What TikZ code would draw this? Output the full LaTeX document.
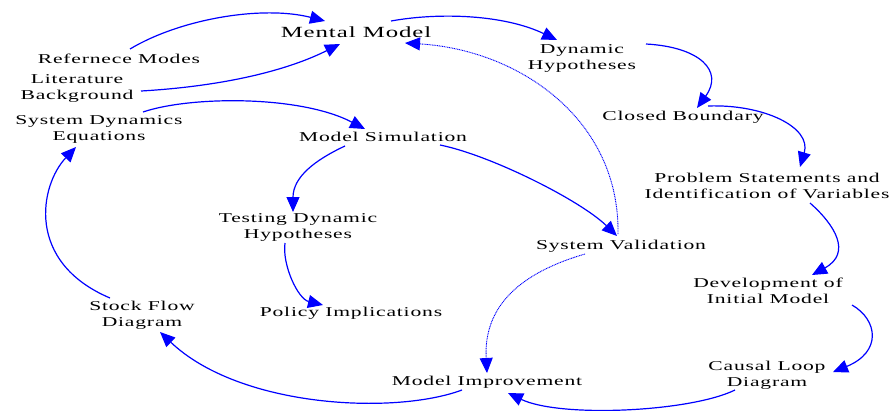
\documentclass[tikz,border=0pt]{standalone}
\usepackage{fontspec}
\setmainfont{Liberation Serif}[FakeStretch=1.6,LetterSpace=6]
\usetikzlibrary{arrows.meta,calc}
\definecolor{flow}{RGB}{0,0,255}
\begin{document}
\begin{tikzpicture}[x=1pt,y=-1pt,
  lbl/.style={align=center, inner sep=0pt, font=\fontsize{13.5}{16}\selectfont},
  big/.style={inner sep=0pt, font=\fontsize{15.5}{18}\selectfont},
  link/.style={draw=flow, line width=1.2pt, -{Triangle[length=15pt,width=13pt]}},
  dotlink/.style={draw=flow, line width=0.9pt, dash pattern=on 1pt off 0.7pt,
                  -{Triangle[length=15pt,width=13pt]}}
]
\path[use as bounding box, fill=white] (0,0) rectangle (894,410);

% stages of the modelling process
\node[big] (mm)  at (356,32)  {Mental Model};
\node[lbl] (rm)  at (119,59)  {Refernece Modes};
\node[lbl] (lb)  at (77,88)   {Literature\\Background};
\node[lbl] (sde) at (99,129)  {System Dynamics\\Equations};
\node[lbl] (ms)  at (383,137) {Model Simulation};
\node[lbl] (dh)  at (582,58)  {Dynamic\\Hypotheses};
\node[lbl] (cb)  at (683,117) {Closed Boundary};
\node[lbl] (ps)  at (767,186) {Problem Statements and\\Identification of Variables};
\node[lbl] (tdh) at (298,227) {Testing Dynamic\\Hypotheses};
\node[lbl] (pi)  at (351,313) {Policy Implications};
\node[lbl] (sfd) at (142,315) {Stock Flow\\Diagram};
\node[lbl] (sv)  at (621,246) {System Validation};
\node[lbl] (dim) at (768,291) {Development of\\Initial Model};
\node[lbl] (cld) at (767,375) {Causal Loop\\Diagram};
\node[lbl] (mi)  at (487,382) {Model Improvement};

% solid links
\draw[link] ($(rm)+(11,-10)$) .. controls (180,19) and (262,5) .. ($(mm)+(-31,-11)$);
\draw[link] ($(lb)+(64,3)$) .. controls (211,87) and (280,74) .. ($(mm)+(-16,12)$);
\draw[link] ($(mm)+(35,-11)$) .. controls (441,12) and (505,15) .. ($(dh)+(-25,-18)$);
\draw[link] ($(dh)+(64,-14)$) .. controls (700,47) and (724,71) .. ($(cb)+(14,-9)$);
\draw[link] ($(cb)+(25,-11)$) .. controls (763,104) and (812,127) .. ($(ps)+(33,-19)$);
\draw[link] ($(ps)+(43,17)$) .. controls (835,225) and (852,253) .. ($(dim)+(44,-16)$);
\draw[link] ($(dim)+(84,14)$) .. controls (878,320) and (882,352) .. ($(cld)+(66,-3)$);
\draw[link] ($(cld)+(-32,15)$) .. controls (690,412) and (560,418) .. ($(mi)+(21,11)$);
\draw[link] ($(mi)+(-25,8)$) .. controls (395,415) and (240,408) .. ($(sfd)+(18,17)$);
\draw[link] ($(sfd)+(-32,-17)$) .. controls (25,262) and (40,185) .. ($(sde)+(-23,18)$);
\draw[link] ($(sde)+(44,-17)$) .. controls (190,96) and (300,95) .. ($(ms)+(-18,-8)$);
\draw[link] ($(ms)+(-38,9)$) .. controls (315,160) and (293,177) .. ($(tdh)+(-5,-15)$);
\draw[link] ($(tdh)+(-13,16)$) .. controls (282,265) and (298,299) .. ($(pi)+(-28,-8)$);
\draw[link] ($(ms)+(57,8)$) .. controls (490,155) and (580,200) .. ($(sv)+(-4,-10)$);

% dotted feedback links
\draw[dotlink] ($(sv)+(-3,-12)$) .. controls (620,120) and (520,50) .. ($(mm)+(49,11)$);
\draw[dotlink] ($(sv)+(-36,8)$) .. controls (530,270) and (483,300) .. ($(mi)+(0,-9)$);
\end{tikzpicture}
\end{document}
